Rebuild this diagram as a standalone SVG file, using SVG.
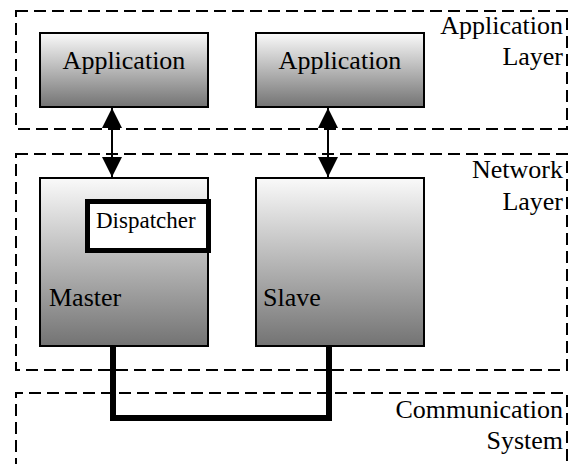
<svg xmlns="http://www.w3.org/2000/svg" width="575" height="464" viewBox="0 0 575 464">
<defs>
<style>
.layer{fill:none;stroke:#000;stroke-width:2;stroke-dasharray:12 6}
.box{fill:url(#grad1);stroke:#000;stroke-width:2}
.ser{font-family:'Liberation Serif',serif;font-size:26px}
.end{text-anchor:end}
.mid{text-anchor:middle}
</style>
<linearGradient id="grad1" x1="0" y1="0" x2="0" y2="1">
<stop offset="0" stop-color="#fafafa"/>
<stop offset="1" stop-color="#737373"/>
</linearGradient>
<marker id="ah" viewBox="0 0 20 20" refX="20" refY="10" markerWidth="20" markerHeight="20" markerUnits="userSpaceOnUse" orient="auto-start-reverse">
<path d="M0,0 L20,10 L0,20 z" fill="#000"/>
</marker>
</defs>
<g id="layers">
<rect class="layer" x="16" y="11" width="551" height="118"/>
<rect class="layer" x="16" y="154" width="551" height="216"/>
<path class="layer" d="M16,470 V393 H567 V470"/>
</g>
<g id="layer-labels">
<text class="ser end" x="563" y="34">Application</text>
<text class="ser end" x="563" y="65">Layer</text>
<text class="ser end" x="563" y="178">Network</text>
<text class="ser end" x="563" y="210">Layer</text>
<text class="ser end" x="563" y="418">Communication</text>
<text class="ser end" x="563" y="449">System</text>
</g>
<g id="app1">
<rect class="box" x="40" y="33" width="168" height="74"/>
<text class="ser mid" x="124" y="69">Application</text>
</g>
<g id="app2">
<rect class="box" x="256" y="33" width="168" height="74"/>
<text class="ser mid" x="340" y="69">Application</text>
</g>
<g id="master">
<rect class="box" x="40" y="178" width="168" height="168"/>
<text class="ser" x="49" y="306">Master</text>
</g>
<g id="dispatcher">
<rect x="87.5" y="201.5" width="121" height="49" fill="#fff" stroke="#000" stroke-width="5"/>
<text class="ser" x="96" y="228" style="font-size:23px">Dispatcher</text>
</g>
<g id="slave">
<rect class="box" x="256" y="178" width="168" height="168"/>
<text class="ser" x="263" y="306">Slave</text>
</g>
<g id="connectors">
<line x1="112" y1="108" x2="112" y2="177" stroke="#000" stroke-width="2" marker-start="url(#ah)" marker-end="url(#ah)"/>
<line x1="328" y1="108" x2="328" y2="177" stroke="#000" stroke-width="2" marker-start="url(#ah)" marker-end="url(#ah)"/>
<path d="M113,347 V418 H329 V347" fill="none" stroke="#000" stroke-width="6"/>
</g>
</svg>
